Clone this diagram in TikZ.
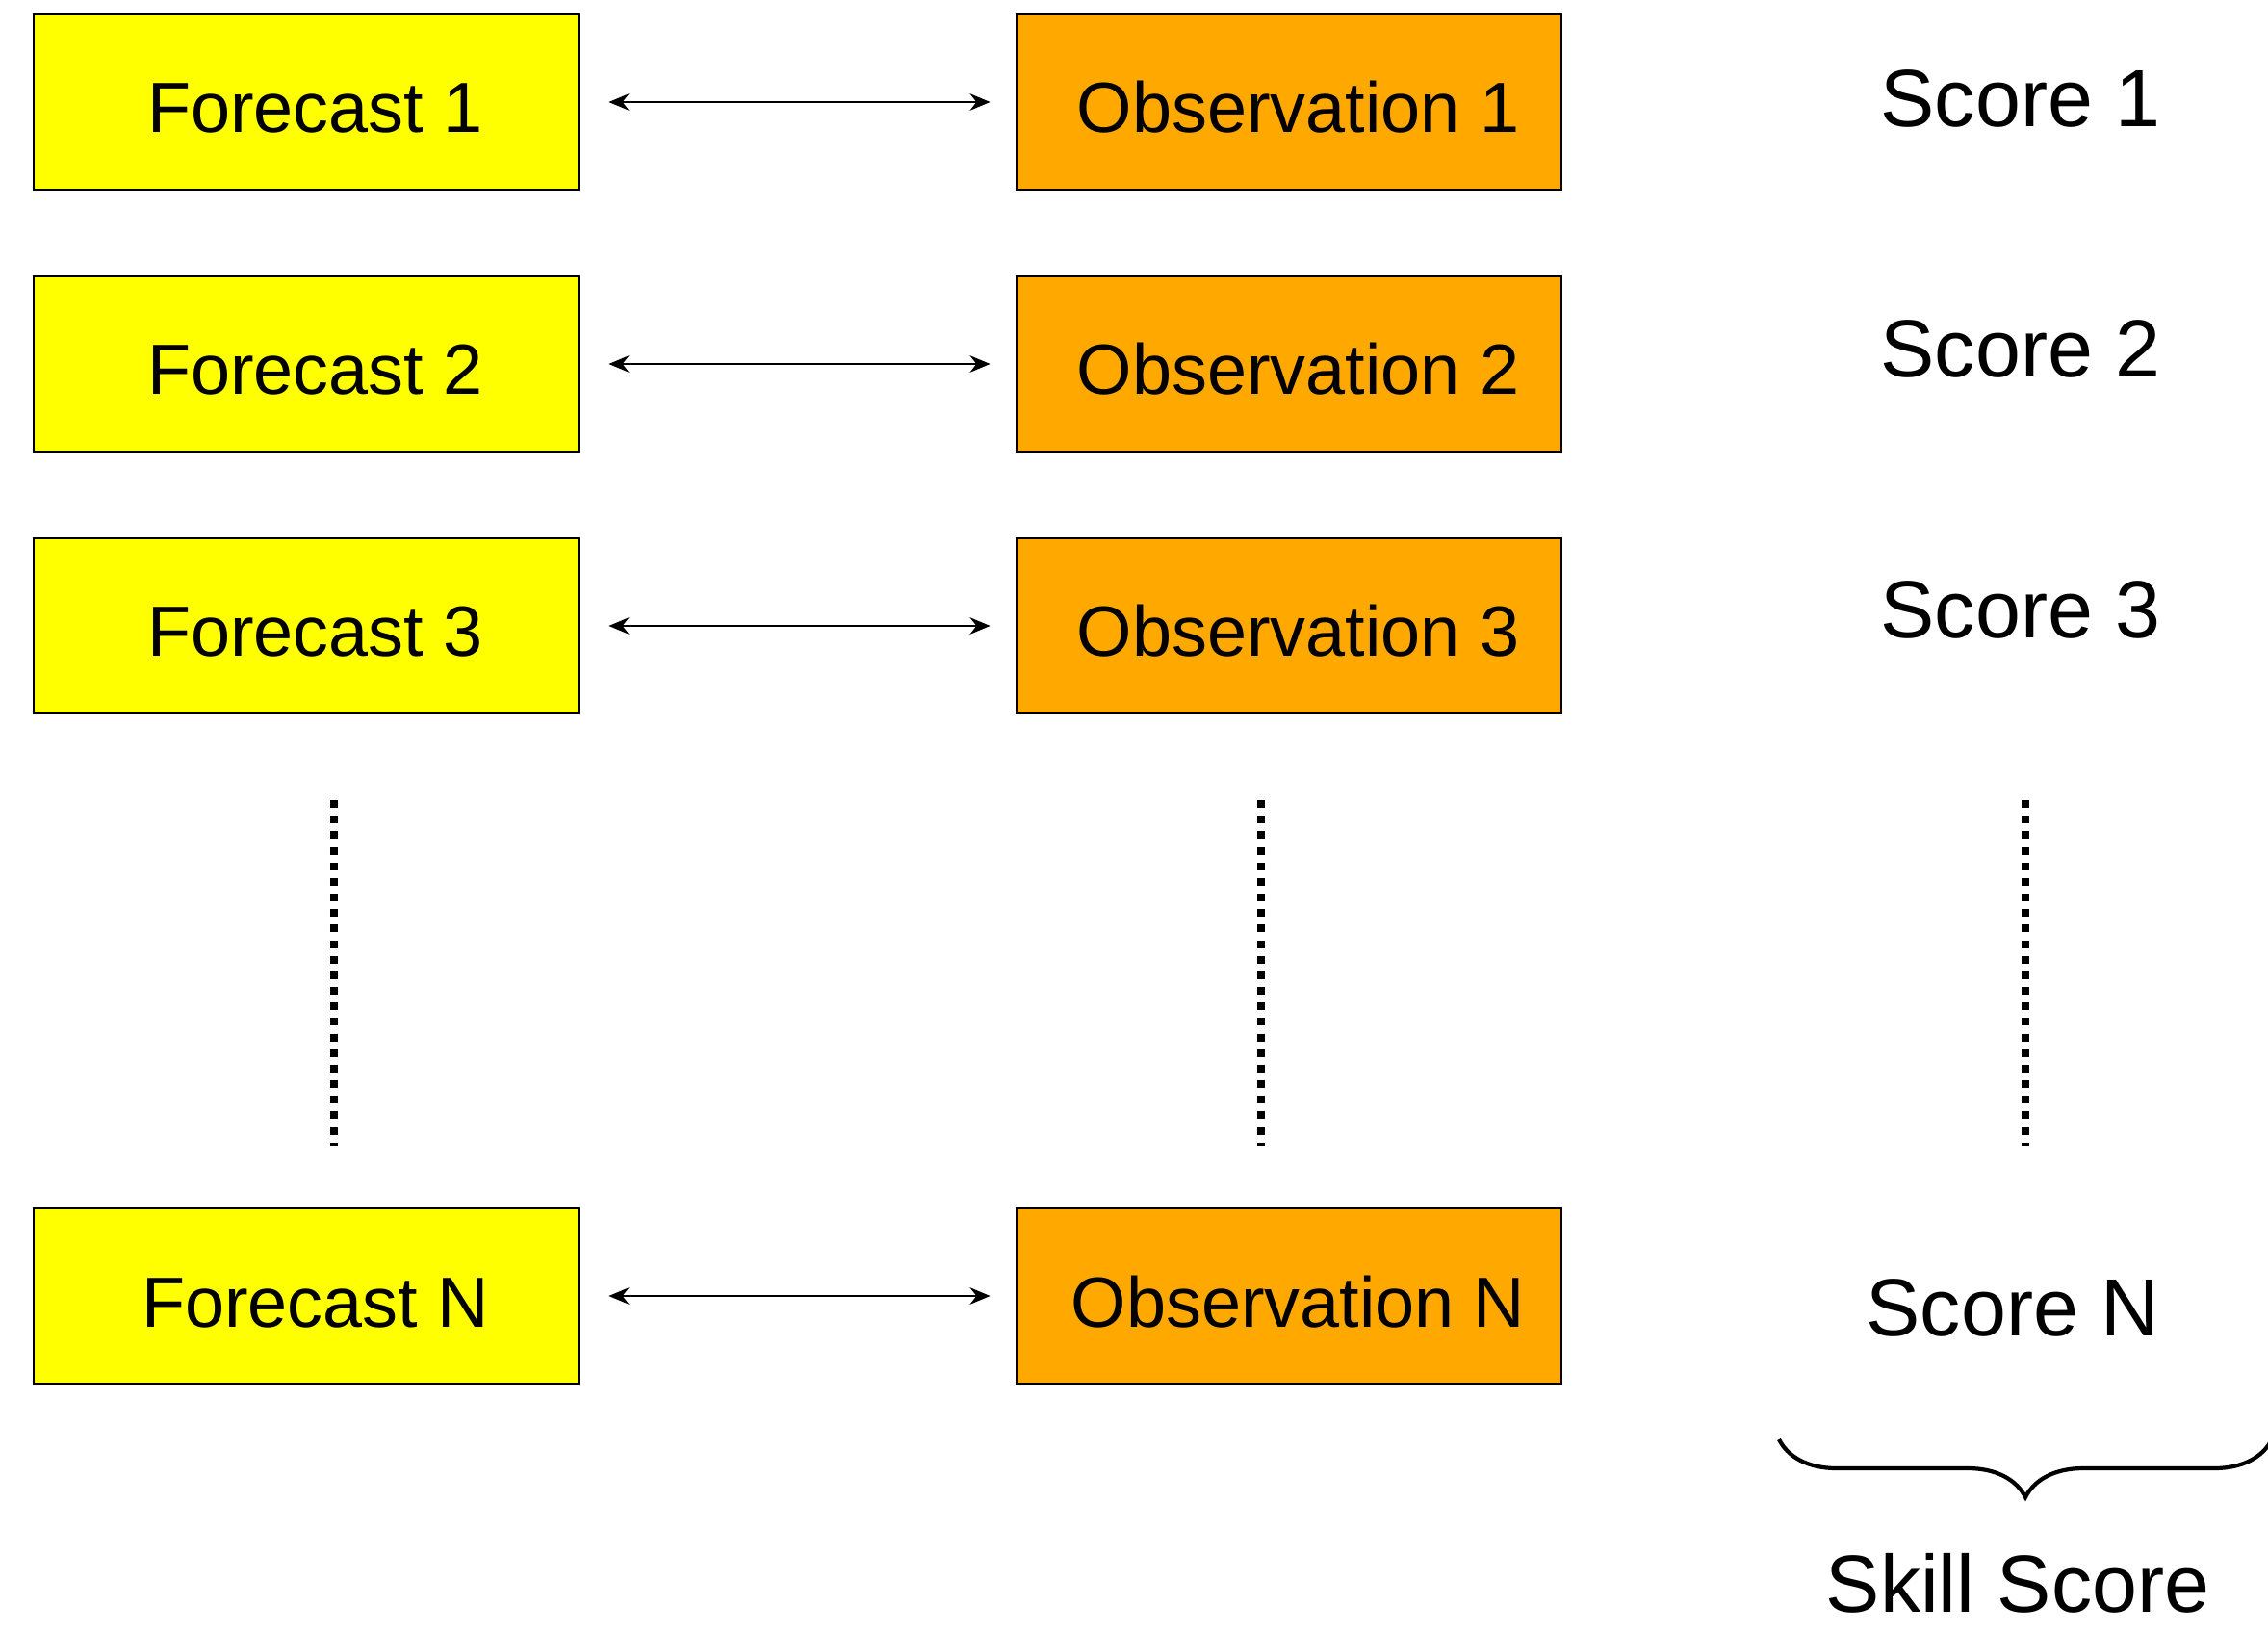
\documentclass[tikz,border=0pt]{standalone}
\usepackage{fontspec}
\setmainfont{Liberation Sans}
\usetikzlibrary{arrows.meta,decorations.pathreplacing}

\definecolor{fcyellow}{RGB}{255,255,0}
\definecolor{obsorange}{RGB}{255,168,0}

\tikzset{
    fcbox/.style={draw, line width=0.8pt, fill=fcyellow, minimum width=5.66cm, minimum height=1.82cm,
        text height=18.2pt, text depth=0pt, execute at begin node=\hspace{0.19cm},
        font=\fontsize{21}{25}\selectfont},
    obsbox/.style={fcbox, fill=obsorange},
    scorelabel/.style={font=\fontsize{24}{28}\selectfont},
    pairarrow/.style={{Stealth[length=6pt,width=5pt]}-{Stealth[length=6pt,width=5pt]}, line width=0.6pt, shorten <=0.3cm, shorten >=0.26cm},
    dotline/.style={line width=2.2pt, dash pattern=on 2.3pt off 2.3pt}
}

\begin{document}
\begin{tikzpicture}
    \useasboundingbox (0,0) rectangle (23.56,-16.94);

    % Forecast boxes
    \node[fcbox] (fc1) at (3.18,-1.06) {Forecast 1};
    \node[fcbox] (fc2) at (3.18,-3.78) {Forecast 2};
    \node[fcbox] (fc3) at (3.18,-6.50) {Forecast 3};
    \node[fcbox] (fcN) at (3.18,-13.46) {Forecast N};

    % Observation boxes
    \node[obsbox] (obs1) at (13.39,-1.06) {Observation 1};
    \node[obsbox] (obs2) at (13.39,-3.78) {Observation 2};
    \node[obsbox] (obs3) at (13.39,-6.50) {Observation 3};
    \node[obsbox] (obsN) at (13.39,-13.46) {Observation N};

    % Scores
    \node[scorelabel] (sc1) at (20.99,-1.02) {Score 1};
    \node[scorelabel] (sc2) at (20.99,-3.62) {Score 2};
    \node[scorelabel] (sc3) at (20.99,-6.33) {Score 3};
    \node[scorelabel] (scN) at (20.91,-13.58) {Score N};

    % Pairing arrows
    \draw[pairarrow] (fc1.east) -- (obs1.west);
    \draw[pairarrow] (fc2.east) -- (obs2.west);
    \draw[pairarrow] (fc3.east) -- (obs3.west);
    \draw[pairarrow] (fcN.east) -- (obsN.west);

    % Dots for the rows in between
    \draw[dotline] (3.47,-8.31) -- (3.47,-11.90);
    \draw[dotline] (13.10,-8.31) -- (13.10,-11.90);
    \draw[dotline] (21.04,-8.31) -- (21.04,-11.90);

    % Brace and skill score
    \draw[line width=1.2pt, decorate, decoration={brace, mirror, amplitude=0.6cm}] (18.48,-14.95) -- (23.60,-14.95);
    \node[scorelabel, inner sep=0pt] (skill) at (20.96,-16.44) {Skill Score};
\end{tikzpicture}
\end{document}
